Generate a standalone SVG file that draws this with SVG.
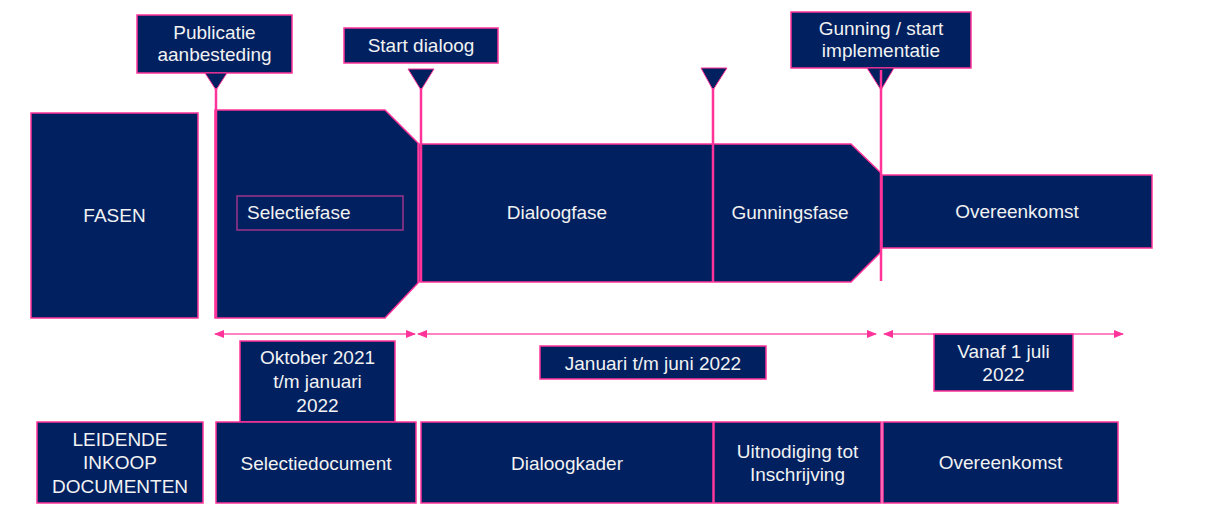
<svg xmlns="http://www.w3.org/2000/svg" width="1214" height="505" viewBox="0 0 1214 505">
<defs>
<style>
.box{fill:#002060;stroke:#FF3399;stroke-width:1.5}
.tri{fill:#002060;stroke:#FF3399;stroke-width:1}
.t{font-family:"Liberation Sans",Arial,sans-serif;font-size:19px;fill:#F2F2F2;text-anchor:middle}
.vl{stroke:#FF3399;stroke-width:2.5;fill:none}
.ar{stroke:#FF5AAE;stroke-width:1.5;fill:none;marker-start:url(#ah);marker-end:url(#ah)}
</style>
<marker id="ah" viewBox="0 0 10 10" refX="9" refY="5" markerWidth="10" markerHeight="10" markerUnits="userSpaceOnUse" orient="auto-start-reverse">
<path d="M0,1 L10,5 L0,9 Z" fill="#FF3399"/>
</marker>
</defs>
<rect width="1214" height="505" fill="#FFFFFF"/>

<g id="fasen">
<rect class="box" x="31" y="113" width="167" height="205"/>
<text class="t" x="114.5" y="222">FASEN</text>
</g>

<g id="selectiefase">
<polygon class="box" points="215,110 385,110 418,143 418,283 385,318 215,318"/>
<rect x="237" y="196" width="166" height="34" fill="none" stroke="#A0338A" stroke-width="1.5"/>
<text class="t" x="247" y="219" style="text-anchor:start">Selectiefase</text>
</g>

<g id="dialoogfase">
<polygon class="box" points="419,144 851,144 881,173 881,252 851,282 419,282"/>
<text class="t" x="557" y="219">Dialoogfase</text>
</g>

<g id="gunningsfase">
<text class="t" x="790" y="219">Gunningsfase</text>
</g>

<g id="overeenkomst-fase">
<rect class="box" x="882" y="175" width="270" height="73"/>
<text class="t" x="1017" y="218">Overeenkomst</text>
</g>

<g id="publicatie">
<rect class="box" x="137" y="15" width="155" height="58"/>
<text class="t" x="214.5" y="39">Publicatie</text>
<text class="t" x="214.5" y="61">aanbesteding</text>
<polygon class="tri" points="205,73 227,73 216,90"/>
</g>

<g id="start-dialoog">
<rect class="box" x="344" y="28" width="154" height="35"/>
<text class="t" x="421" y="52">Start dialoog</text>
<polygon class="tri" points="408,69 434,69 421,90"/>
</g>

<g id="marker-gunningsfase">
<polygon class="tri" points="701,68 727,68 713,90"/>
</g>

<g id="gunning-start">
<rect class="box" x="791" y="12" width="180" height="56"/>
<text class="t" x="881" y="35">Gunning / start</text>
<text class="t" x="881" y="57">implementatie</text>
<polygon class="tri" points="867,68 894,68 881,90"/>
</g>

<g id="connectors">
<line class="vl" x1="216" y1="88" x2="216" y2="318"/>
<line class="vl" x1="421" y1="88" x2="421" y2="282"/>
<line class="vl" x1="713" y1="88" x2="713" y2="282"/>
<line class="vl" x1="881" y1="70" x2="881" y2="281"/>
<line class="ar" x1="215" y1="334" x2="415" y2="334"/>
<line class="ar" x1="418" y1="334" x2="876" y2="334"/>
<line class="ar" x1="884" y1="334" x2="1123" y2="334"/>
</g>

<g id="periode-1">
<rect class="box" x="240" y="341" width="155" height="81"/>
<text class="t" x="317.5" y="364">Oktober 2021</text>
<text class="t" x="317.5" y="388">t/m januari</text>
<text class="t" x="317.5" y="412">2022</text>
</g>

<g id="periode-2">
<rect class="box" x="540" y="346" width="226" height="33"/>
<text class="t" x="653" y="370">Januari t/m juni 2022</text>
</g>

<g id="periode-3">
<rect class="box" x="934" y="334" width="139" height="57"/>
<text class="t" x="1003.5" y="358">Vanaf 1 juli</text>
<text class="t" x="1003.5" y="381">2022</text>
</g>

<g id="leidende-inkoop-documenten">
<rect class="box" x="37" y="422" width="166" height="81"/>
<text class="t" x="120" y="446">LEIDENDE</text>
<text class="t" x="120" y="469">INKOOP</text>
<text class="t" x="120" y="493">DOCUMENTEN</text>
</g>

<g id="selectiedocument">
<rect class="box" x="216" y="422" width="200" height="81"/>
<text class="t" x="316" y="470">Selectiedocument</text>
</g>

<g id="dialoogkader">
<rect class="box" x="421" y="422" width="292" height="81"/>
<text class="t" x="567" y="470">Dialoogkader</text>
</g>

<g id="uitnodiging">
<rect class="box" x="714" y="422" width="167" height="81"/>
<text class="t" x="797.5" y="458">Uitnodiging tot</text>
<text class="t" x="797.5" y="481">Inschrijving</text>
</g>

<g id="overeenkomst-document">
<rect class="box" x="883" y="422" width="235" height="81"/>
<text class="t" x="1000.5" y="469">Overeenkomst</text>
</g>
</svg>
